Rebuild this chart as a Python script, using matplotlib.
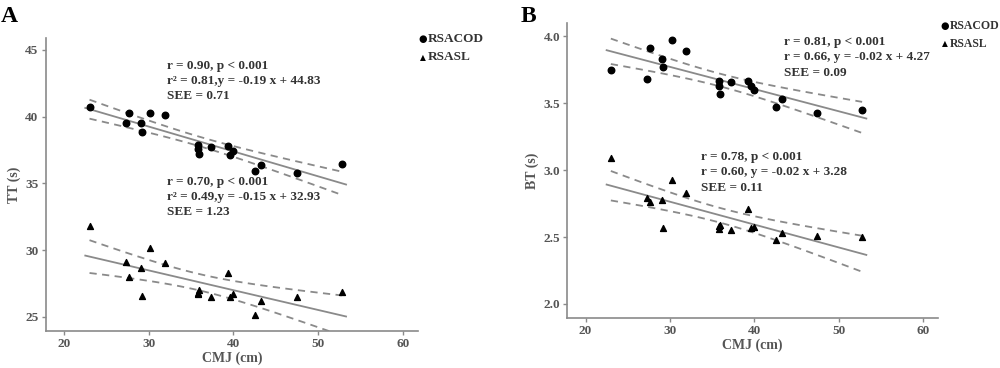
import numpy as np
import matplotlib.pyplot as plt

# CMJ (cm), same subjects in both panels
cmj = [23.0, 27.3, 27.7, 29.1, 29.2, 30.2, 31.9, 35.8, 35.8, 35.9,
       37.3, 39.3, 39.6, 40.0, 42.6, 43.3, 47.5, 52.8]

# panel A: total time
tt_rsacod = [40.7, 39.55, 40.25, 39.5, 38.85, 40.25, 40.1, 37.85, 37.6, 37.2,
             37.75, 37.8, 37.1, 37.45, 35.9, 36.4, 35.8, 36.45]
tt_rsasl = [31.8, 29.1, 28.0, 28.7, 26.6, 30.2, 29.05, 26.7, 26.8, 27.0,
            26.5, 28.3, 26.5, 26.75, 25.15, 26.2, 26.5, 26.9]

# panel B: best time
bt_rsacod = [3.75, 3.68, 3.91, 3.83, 3.77, 3.97, 3.89, 3.665, 3.63, 3.57,
             3.66, 3.67, 3.63, 3.60, 3.47, 3.53, 3.43, 3.45]
bt_rsasl = [3.09, 2.795, 2.76, 2.78, 2.57, 2.93, 2.83, 2.56, 2.58, 2.59,
            2.55, 2.71, 2.57, 2.575, 2.475, 2.53, 2.51, 2.50]

stats_a = [["r = 0.90, p < 0.001", "r² = 0.81,y = -0.19 x + 44.83", "SEE = 0.71"],
           ["r = 0.70, p < 0.001", "r² = 0.49,y = -0.15 x + 32.93", "SEE = 1.23"]]
stats_b = [["r = 0.81, p < 0.001", "r = 0.66, y = -0.02 x + 4.27", "SEE = 0.09"],
           ["r = 0.78, p < 0.001", "r = 0.60, y = -0.02 x + 3.28", "SEE = 0.11"]]

xticks = [20, 30, 40, 50, 60]

FONT = "Liberation Serif"
GREY = "#8a8a8a"
TXT = "#333333"


def draw_fit(ax, x, y):
    x = np.array(x)
    y = np.array(y)
    b, a = np.polyfit(x, y, 1)
    n = len(x)
    resid = y - (a + b * x)
    s = np.sqrt(np.sum(resid ** 2) / (n - 2))
    sxx = np.sum((x - x.mean()) ** 2)
    t = 2.12
    xl = np.linspace(x.min() - 0.5, x.max() + 0.5, 50)
    ax.plot(xl, a + b * xl, color=GREY, lw=1.3, zorder=2)
    xb = np.linspace(x.min(), x.max(), 80)
    half = t * s * np.sqrt(1.0 / n + (xb - x.mean()) ** 2 / sxx)
    for sign in (1, -1):
        ax.plot(xb, a + b * xb + sign * half, color=GREY, lw=1.3,
                ls=(0, (4, 3)), zorder=2)


def style_axes(ax, ylim, yticks, ylabel, fmt):
    ax.set_xlim(17.8, 61.8)
    ax.set_ylim(*ylim)
    ax.set_xticks(xticks)
    ax.set_yticks(yticks)
    ax.set_yticklabels([fmt.format(v) for v in yticks])
    for side in ("top", "right"):
        ax.spines[side].set_visible(False)
    for side in ("left", "bottom"):
        ax.spines[side].set_color(GREY)
        ax.spines[side].set_linewidth(1.2)
    ax.tick_params(colors=GREY, length=3, width=1, labelcolor="#555555",
                   labelsize=9.5, pad=2)
    for lab in ax.get_xticklabels() + ax.get_yticklabels():
        lab.set_fontfamily(FONT)
        lab.set_fontweight("bold")
    ax.set_xlabel("CMJ (cm)", family=FONT, fontsize=10, color="#555555",
                  fontweight="bold", labelpad=1)
    ax.set_ylabel(ylabel, family=FONT, fontsize=10, color="#555555",
                  fontweight="bold", labelpad=3)


def add_stats(ax, x, y, lines):
    ax.text(x, y, "\n".join(lines), transform=ax.transAxes, family=FONT,
            fontsize=9.5, color=TXT, fontweight="bold", va="top", ha="left",
            linespacing=1.35)


fig = plt.figure(figsize=(10, 3.68), dpi=100)

# ---- panel A
axA = fig.add_axes([0.0455, 0.1005, 0.3725, 0.7965])
axA.scatter(cmj, tt_rsacod, marker="o", s=22, color="black", zorder=3)
axA.scatter(cmj, tt_rsasl, marker="^", s=18, color="black", zorder=3)
draw_fit(axA, cmj, tt_rsacod)
draw_fit(axA, cmj, tt_rsasl)
style_axes(axA, (23.95, 45.9), [25, 30, 35, 40, 45], "TT (s)", "{:.0f}")
add_stats(axA, 0.325, 0.925, stats_a[0])
add_stats(axA, 0.325, 0.53, stats_a[1])

# ---- panel B
axB = fig.add_axes([0.567, 0.136, 0.371, 0.8015])
axB.scatter(cmj, bt_rsacod, marker="o", s=22, color="black", zorder=3)
axB.scatter(cmj, bt_rsasl, marker="^", s=18, color="black", zorder=3)
draw_fit(axB, cmj, bt_rsacod)
draw_fit(axB, cmj, bt_rsasl)
style_axes(axB, (1.895, 4.1), [2.0, 2.5, 3.0, 3.5, 4.0], "BT (s)", "{:.1f}")
add_stats(axB, 0.585, 0.955, stats_b[0])
add_stats(axB, 0.36, 0.565, stats_b[1])

# legends
for ax, lx, ly, fs in ((axA, 0.423, 0.893, 9.5), (axB, 0.945, 0.929, 8.5)):
    fig.text(lx, ly, "●", fontsize=7, color="black", ha="center", va="center")
    fig.text(lx, ly - 0.048, "▲", fontsize=5.5, color="black", ha="center",
             va="center")
    fig.text(lx + 0.005, ly, "RSACOD", family=FONT, fontsize=fs, color=TXT,
             fontweight="bold", va="center")
    fig.text(lx + 0.005, ly - 0.048, "RSASL", family=FONT, fontsize=fs,
             color=TXT, fontweight="bold", va="center")

fig.text(0.001, 0.955, "A", family=FONT, fontsize=17, fontweight="bold",
         va="center")
fig.text(0.521, 0.955, "B", family=FONT, fontsize=17, fontweight="bold",
         va="center")

fig.savefig("out.png", dpi=100)
